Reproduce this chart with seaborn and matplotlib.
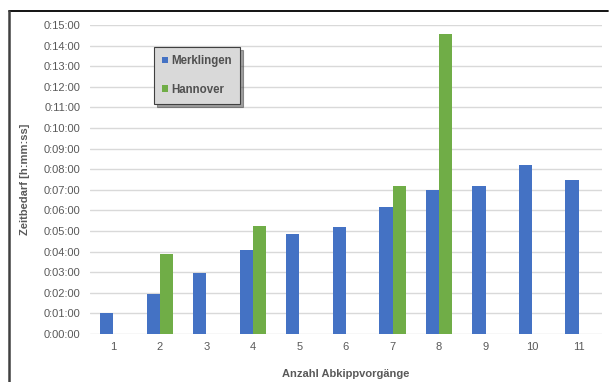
import numpy as np
import pandas as pd
import matplotlib
matplotlib.use("Agg")
import matplotlib.pyplot as plt
from matplotlib.ticker import FuncFormatter, MultipleLocator
from matplotlib.lines import Line2D
import seaborn as sns

# Zeitbedarf je Anzahl Abkippvorgänge, in Sekunden
categories = [1, 2, 3, 4, 5, 6, 7, 8, 9, 10, 11]
merklingen = [60, 115, 178, 244, 290, 312, 370, 420, 430, 491, 448]
hannover = [None, 233, None, 315, None, None, 430, 873, None, None, None]
series_names = ["Merklingen", "Hannover"]
colors = ["#4472C4", "#70AD47"]

rows = []
for cat, m, h in zip(categories, merklingen, hannover):
    rows.append({"cat": str(cat), "serie": "Merklingen", "min": m / 60})
    if h is not None:
        rows.append({"cat": str(cat), "serie": "Hannover", "min": h / 60})
df = pd.DataFrame(rows)

sns.set_style("white")
plt.rcParams["font.family"] = ["Liberation Sans", "DejaVu Sans"]

fig = plt.figure(figsize=(6.13, 3.82), dpi=100)
ax = fig.add_axes([0.1468, 0.1257, 0.982 - 0.1468, 0.9346 - 0.1257])

sns.barplot(data=df, x="cat", y="min", hue="serie",
            order=[str(c) for c in categories], hue_order=series_names,
            palette=colors, saturation=1, width=0.57, errorbar=None,
            linewidth=0, ax=ax)

ax.set_ylim(0, 15)
ax.set_xlim(-0.5, len(categories) - 0.5)
ax.yaxis.set_major_locator(MultipleLocator(1))
ax.yaxis.set_major_formatter(FuncFormatter(lambda v, p: f"0:{int(round(v)):02d}:00"))
ax.grid(axis="y", color="#d9d9d9", linewidth=1)
ax.set_axisbelow(True)
for s in ax.spines.values():
    s.set_visible(False)
ax.tick_params(axis="both", length=0, labelsize=8, colors="#595959")
ax.tick_params(axis="x", pad=6)
ax.tick_params(axis="y", pad=7)

ax.set_xlabel("Anzahl Abkippvorgänge", fontsize=8, fontweight="bold",
              color="#595959", labelpad=12)
ax.set_ylabel("Zeitbedarf [h:mm:ss]", fontsize=8, fontweight="bold",
              color="#595959", labelpad=10)

handles, labels = ax.get_legend_handles_labels()
leg = ax.legend(handles, labels, loc="upper left",
                bbox_to_anchor=(154 / 613, 1 - 47 / 382),
                bbox_transform=fig.transFigure,
                frameon=True, fancybox=False, shadow=True,
                facecolor="#d9d9d9", edgecolor="#404040", framealpha=1,
                handlelength=0.55, handleheight=0.55, handletextpad=0.25,
                labelspacing=1.45, borderpad=0.7, borderaxespad=0,
                prop={"size": 8.3, "weight": "bold"})
for t in leg.get_texts():
    t.set_color("#505050")
leg.get_frame().set_linewidth(0.8)

# Rahmen oben und links
x0, y0 = 9 / 613, 1 - 11 / 382
fig.add_artist(Line2D([x0, 608 / 613], [y0, y0], transform=fig.transFigure,
                      color="black", linewidth=1.3))
fig.add_artist(Line2D([x0, x0], [0, y0], transform=fig.transFigure,
                      color="#404040", linewidth=1.8))

fig.savefig("out.png", dpi=100)
